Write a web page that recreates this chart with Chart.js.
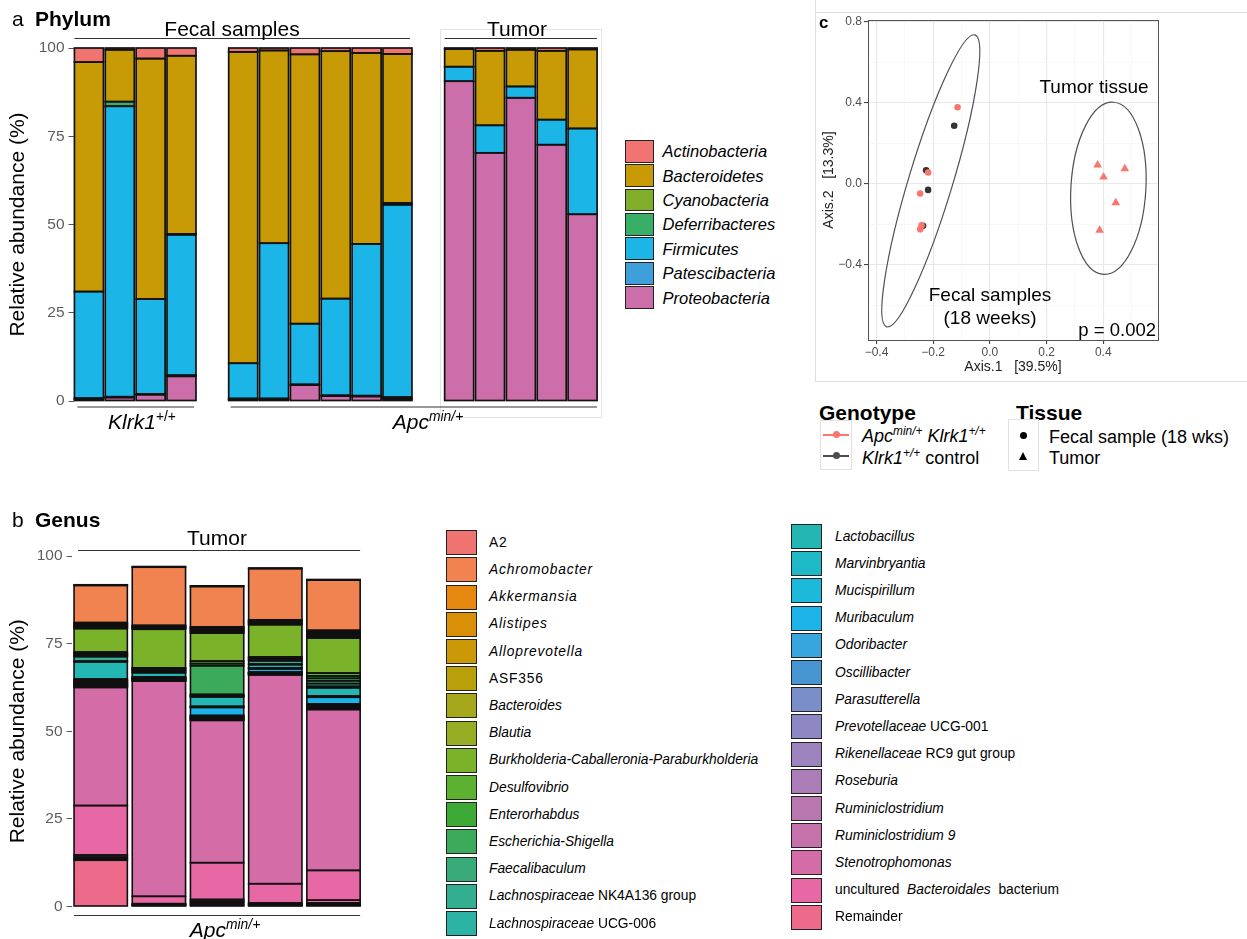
<!DOCTYPE html>
<html lang="en">
<head>
<meta charset="utf-8">
<title>Gut microbiota composition and PCoA</title>
<script src="https://cdn.jsdelivr.net/npm/chart.js@4.4.1/dist/chart.umd.min.js"></script>
<style>
  html, body { margin:0; padding:0; background:#fff; }
  body { position:relative; width:1247px; height:939px; overflow:hidden;
         font-family:"Liberation Sans", Arial, Helvetica, sans-serif; color:#000; }
  .panel { position:absolute; }
  canvas { display:block; }
  .t { position:absolute; white-space:nowrap; line-height:1; transform:translateY(-50%); }
  .tc { transform:translate(-50%,-50%); }
  .tr { transform:translate(-100%,-50%); }
  .b { font-weight:bold; }
  .sup { font-size:0.66em; position:relative; top:-0.55em; }
  .sw { position:absolute; box-sizing:border-box; border:1.7px solid #222; }
  .hl { position:absolute; height:0; border-top:1px solid #dedede; }
  .vl { position:absolute; width:0; border-left:1px solid #dedede; }
  .keybox { position:absolute; box-sizing:border-box; border:1px solid #e2e2e2; }
  .keyline { position:absolute; height:2px; }
  .keydot { position:absolute; border-radius:50%; }
  .keytri { position:absolute; width:0; height:0; border-left:4.5px solid transparent; border-right:4.5px solid transparent; border-bottom:8px solid #000; }
</style>
</head>
<body>

<div class="panel" style="left:0;top:0;"><canvas id="phylum" width="620" height="440"></canvas></div>
<div class="panel" style="left:0;top:500px;"><canvas id="genus" width="400" height="439"></canvas></div>
<div class="panel" style="left:815px;top:0;"><canvas id="pcoa" width="432" height="390"></canvas></div>

<!-- frame around the ordination panel -->
<div class="vl" style="left:815px;top:0;height:381px;"></div>
<div class="hl" style="left:815px;top:381px;width:432px;"></div>
<div class="hl" style="left:815px;top:12px;width:432px;"></div>

<!-- panel a titles -->
<div class="t" style="left:12px;top:18px;font-size:21px;">a</div>
<div class="t b" style="left:35px;top:18px;font-size:21px;">Phylum</div>
<div class="t tc" style="left:232px;top:28px;font-size:21px;">Fecal samples</div>
<div class="t tc" style="left:517px;top:28px;font-size:21px;">Tumor</div>
<div class="t tc" style="left:142px;top:421px;font-size:21px;"><i>Klrk1</i><span class="sup">+/+</span></div>
<div class="t tc" style="left:428px;top:421px;font-size:21px;"><i>Apc</i><span class="sup"><i>min/+</i></span></div>

<!-- panel b titles -->
<div class="t" style="left:12px;top:519px;font-size:21px;">b</div>
<div class="t b" style="left:35px;top:519px;font-size:21px;">Genus</div>
<div class="t tc" style="left:217px;top:537px;font-size:21px;">Tumor</div>
<div class="t tc" style="left:225px;top:929px;font-size:21px;"><i>Apc</i><span class="sup"><i>min/+</i></span></div>

<!-- panel c titles and annotations -->
<div class="t b" style="left:819px;top:22px;font-size:17px;">c</div>
<div class="t tc" style="left:1094px;top:86px;font-size:19px;">Tumor tissue</div>
<div class="t tc" style="left:990px;top:294px;font-size:19px;">Fecal samples</div>
<div class="t tc" style="left:990px;top:317px;font-size:19px;">(18 weeks)</div>
<div class="t tr" style="left:1156px;top:330px;font-size:18.5px;">p = 0.002</div>

<!-- genotype / tissue keys -->
<div class="t b" style="left:819px;top:412px;font-size:21px;">Genotype</div>
<div class="keybox" style="left:820px;top:420px;width:32px;height:50px;"></div>
<div class="keyline" style="left:823px;top:433.5px;width:26px;background:#F8766D;"></div>
<div class="keydot" style="left:832.5px;top:431px;width:7px;height:7px;background:#F8766D;"></div>
<div class="keyline" style="left:823px;top:454.5px;width:26px;background:#4d4d4d;"></div>
<div class="keydot" style="left:832.5px;top:452px;width:7px;height:7px;background:#4d4d4d;"></div>
<div class="t" style="left:862px;top:436px;font-size:18px;"><i>Apc</i><span class="sup"><i>min/+</i></span> <i>Klrk1</i><span class="sup"><i>+/+</i></span></div>
<div class="t" style="left:862px;top:458px;font-size:18px;"><i>Klrk1</i><span class="sup"><i>+/+</i></span> control</div>

<div class="t b" style="left:1016px;top:412px;font-size:21px;">Tissue</div>
<div class="keybox" style="left:1008px;top:419px;width:31px;height:52px;"></div>
<div class="keydot" style="left:1019.5px;top:431.5px;width:7px;height:7px;background:#000;"></div>
<div class="keytri" style="left:1018.5px;top:452px;"></div>
<div class="t" style="left:1049px;top:437px;font-size:18px;">Fecal sample (18 wks)</div>
<div class="t" style="left:1049px;top:458px;font-size:18px;">Tumor</div>

<div id="phylumLegend"></div>
<div id="genusLegend"></div>

<script>
// ===================== Panel a: phylum-level relative abundance =====================
const klrk1FecalSamples = ['K1', 'K2', 'K3', 'K4'];
const apcFecalSamples   = ['AF1', 'AF2', 'AF3', 'AF4', 'AF5', 'AF6'];
const apcTumorSamples   = ['AT1', 'AT2', 'AT3', 'AT4', 'AT5'];

const phylumNames  = ['Actinobacteria', 'Bacteroidetes', 'Cyanobacteria', 'Deferribacteres',
                      'Firmicutes', 'Patescibacteria', 'Proteobacteria'];
const phylumColors = ['#F07470', '#C79A06', '#80AD2A', '#39AE67', '#1CB5E8', '#3E9FDB', '#CC6EAA'];

// per-sample percentages: 4 Klrk1 fecal, 6 Apc fecal, 5 Apc tumour
const actinobacteria  = [4.0, 0.5, 3.0, 2.2,   1.1, 0.7, 1.8, 0.9, 1.4, 1.7,   0.3, 0.8, 0.5, 0.8, 0.4];
const bacteroidetes   = [65.0, 14.7, 68.1, 50.5, 88.2, 54.6, 76.3, 70.1, 54.1, 42.2, 5.0, 21.1, 10.4, 19.5, 22.4];
const cyanobacteria   = [0, 0, 0, 0,           0, 0, 0, 0, 0, 0.5,         0, 0, 0, 0, 0];
const deferribacteres = [0, 1.3, 0, 0.2,       0, 0, 0, 0, 0, 0,           0, 0, 0, 0, 0];
const firmicutes      = [30.2, 82.3, 26.9, 39.8, 10.0, 44.0, 17.2, 27.4, 43.0, 54.5, 4.1, 7.8, 3.2, 7.1, 24.3];
const patescibacteria = [0.3, 0.2, 0.2, 0.3,   0.3, 0.3, 0.2, 0.2, 0.2, 0.5, 0, 0, 0, 0, 0];
const proteobacteria  = [0.5, 1.0, 1.8, 7.0,   0.4, 0.4, 4.5, 1.4, 1.3, 0.6, 90.6, 70.3, 85.9, 72.6, 52.9];

const abundanceTicks = [0, 25, 50, 75, 100];

const phylumSeries = {
  Actinobacteria: actinobacteria, Bacteroidetes: bacteroidetes, Cyanobacteria: cyanobacteria,
  Deferribacteres: deferribacteres, Firmicutes: firmicutes, Patescibacteria: patescibacteria,
  Proteobacteria: proteobacteria
};

// one empty slot separates the facets
const phylumSlots = [...klrk1FecalSamples, '', ...apcFecalSamples, ' ', ...apcTumorSamples];
function withGaps(v) {
  const a = klrk1FecalSamples.length, b = a + apcFecalSamples.length;
  return [...v.slice(0, a), null, ...v.slice(a, b), null, ...v.slice(b)];
}

Chart.defaults.font.family = '"Liberation Sans", Arial, Helvetica, sans-serif';
Chart.defaults.animation = false;
Chart.defaults.plugins.legend.display = false;
Chart.defaults.plugins.tooltip.enabled = false;

const PHYLUM_BAR = 0.94;

function hLine(ctx, x1, x2, y, color) {
  ctx.save();
  ctx.strokeStyle = color || '#333';
  ctx.lineWidth = 1;
  ctx.beginPath();
  ctx.moveTo(x1, y); ctx.lineTo(x2, y);
  ctx.stroke();
  ctx.restore();
}

// Outline every stacked segment with a stroke centred on its edges, so thin
// segments collapse into dark bands the way outlined stacked bars do.
const segmentOutline = {
  id: 'segmentOutline',
  afterDatasetsDraw(chart, args, opts) {
    const {ctx} = chart;
    ctx.save();
    ctx.strokeStyle = opts.color || '#111';
    ctx.lineWidth = opts.width || 1.6;
    chart.data.datasets.forEach((ds, di) => {
      const meta = chart.getDatasetMeta(di);
      meta.data.forEach((el, i) => {
        if (ds.data[i] == null) return;
        const {x, y, base, width} = el.getProps(['x', 'y', 'base', 'width'], true);
        const top = Math.min(y, base), h = Math.abs(base - y);
        ctx.strokeRect(x - width / 2, top, width, h);
      });
    });
    ctx.restore();
  }
};

const phylumBrackets = {
  id: 'phylumBrackets',
  beforeDatasetsDraw(chart) {
    const {ctx, scales: {x}} = chart;
    const hw = (x.getPixelForValue(1) - x.getPixelForValue(0)) * PHYLUM_BAR / 2;
    const t0 = phylumSlots.length - apcTumorSamples.length, t1 = phylumSlots.length - 1;
    const l = x.getPixelForValue(t0) - hw - 5, r = x.getPixelForValue(t1) + hw + 4;
    ctx.save();
    ctx.strokeStyle = '#e3e3e3';
    ctx.lineWidth = 1;
    ctx.strokeRect(Math.round(l) + 0.5, 29.5, Math.round(r - l), 388);
    ctx.restore();
  },
  afterDraw(chart) {
    const {ctx, scales: {x}, chartArea} = chart;
    const hw = (x.getPixelForValue(1) - x.getPixelForValue(0)) * PHYLUM_BAR / 2;
    const fecalEnd = klrk1FecalSamples.length + apcFecalSamples.length; // slot index of last Apc fecal
    const t0 = phylumSlots.length - apcTumorSamples.length, t1 = phylumSlots.length - 1;
    const yTop = chartArea.top - 9.5, yBot = chartArea.bottom + 6;
    hLine(ctx, x.getPixelForValue(0) - hw, x.getPixelForValue(fecalEnd) + hw - 2, yTop);
    hLine(ctx, x.getPixelForValue(t0) - hw, x.getPixelForValue(t1) + hw, yTop);
    hLine(ctx, x.getPixelForValue(0) - hw + 3, x.getPixelForValue(klrk1FecalSamples.length - 1) + hw - 2, yBot);
    hLine(ctx, x.getPixelForValue(klrk1FecalSamples.length + 1) - hw + 2, x.getPixelForValue(t1) + hw, yBot);
  }
};

new Chart(document.getElementById('phylum'), {
  type: 'bar',
  data: {
    labels: phylumSlots,
    datasets: [...phylumNames].reverse().map(name => ({
      label: name,
      data: withGaps(phylumSeries[name]).map(v => (v ? v : null)),
      backgroundColor: phylumColors[phylumNames.indexOf(name)],
      borderWidth: 0,
      barPercentage: PHYLUM_BAR,
      categoryPercentage: 1
    }))
  },
  options: {
    responsive: false,
    layout: { padding: { top: 48, bottom: 39, right: 22, left: 0 } },
    plugins: { segmentOutline: { color: '#121212', width: 1.7 } },
    scales: {
      x: { stacked: true, display: false },
      y: {
        stacked: true, min: 0, max: 100,
        afterBuildTicks: s => { s.ticks = abundanceTicks.map(v => ({ value: v })); },
        afterFit: s => { s.width = 73.5; },
        ticks: { color: '#5e5e5e', font: { size: 15.5 }, padding: 4 },
        grid: { drawOnChartArea: false, tickLength: 5, tickColor: '#555', tickWidth: 1 },
        border: { display: false },
        title: { display: true, text: 'Relative abundance (%)', color: '#000',
                 font: { size: 21 }, padding: { top: 5.4, bottom: 0 } }
      }
    }
  },
  plugins: [phylumBrackets, segmentOutline]
});

// phylum legend
(function () {
  const host = document.getElementById('phylumLegend');
  phylumNames.forEach((name, i) => {
    const cy = 151.3 + i * 24.38;
    const sw = document.createElement('div');
    sw.className = 'sw';
    sw.style.cssText = `left:625px;top:${cy - 11.4}px;width:29px;height:22.8px;background:${phylumColors[i]};`;
    host.appendChild(sw);
    const tx = document.createElement('div');
    tx.className = 't';
    tx.style.cssText = `left:662.5px;top:${cy}px;font-size:16.5px;font-style:italic;`;
    tx.textContent = name;
    host.appendChild(tx);
  });
})();

// ===================== Panel b: genus-level relative abundance (tumours) =====================
const tumorSamples = ['T1', 'T2', 'T3', 'T4', 'T5'];

const genusNames = ['A2', 'Achromobacter', 'Akkermansia', 'Alistipes', 'Alloprevotella', 'ASF356',
  'Bacteroides', 'Blautia', 'Burkholderia-Caballeronia-Paraburkholderia', 'Desulfovibrio',
  'Enterorhabdus', 'Escherichia-Shigella', 'Faecalibaculum', 'Lachnospiraceae NK4A136 group',
  'Lachnospiraceae UCG-006', 'Lactobacillus', 'Marvinbryantia', 'Mucispirillum', 'Muribaculum',
  'Odoribacter', 'Oscillibacter', 'Parasutterella', 'Prevotellaceae UCG-001',
  'Rikenellaceae RC9 gut group', 'Roseburia', 'Ruminiclostridium', 'Ruminiclostridium 9',
  'Stenotrophomonas', 'uncultured Bacteroidales bacterium', 'Remainder'];

const genusLabels = ['A2', '<i>Achromobacter</i>', '<i>Akkermansia</i>', '<i>Alistipes</i>',
  '<i>Alloprevotella</i>', 'ASF356', '<i>Bacteroides</i>', '<i>Blautia</i>',
  '<i>Burkholderia-Caballeronia-Paraburkholderia</i>', '<i>Desulfovibrio</i>', '<i>Enterorhabdus</i>',
  '<i>Escherichia-Shigella</i>', '<i>Faecalibaculum</i>', '<i>Lachnospiraceae</i> NK4A136 group',
  '<i>Lachnospiraceae</i> UCG-006', '<i>Lactobacillus</i>', '<i>Marvinbryantia</i>',
  '<i>Mucispirillum</i>', '<i>Muribaculum</i>', '<i>Odoribacter</i>', '<i>Oscillibacter</i>',
  '<i>Parasutterella</i>', '<i>Prevotellaceae</i> UCG-001', '<i>Rikenellaceae</i> RC9 gut group',
  '<i>Roseburia</i>', '<i>Ruminiclostridium</i>', '<i>Ruminiclostridium 9</i>',
  '<i>Stenotrophomonas</i>', 'uncultured&nbsp; <i>Bacteroidales</i>&nbsp; bacterium', 'Remainder'];

const genusColors = ['#EF7470', '#F0834F', '#E6880F', '#D98F06', '#CB9907', '#B9A00B', '#A6A81C',
  '#96AC22', '#7AB22A', '#5DB131', '#3CAA35', '#3BAB5B', '#38AB78', '#33AF8F', '#2DB3A3', '#24B6B3',
  '#1EB8C6', '#1CB9DA', '#1CB3E8', '#37A6DE', '#4796D2', '#7A8ECA', '#8D88C4', '#9C83BE', '#AA7DB6',
  '#B877AF', '#C572AB', '#D46CA7', '#E868A5', '#EE6A8B'];

// per-tumour percentages
const a2                 = [0.2, 0.2, 0.2, 0.2, 0.2];
const achromobacter      = [10.6, 16.6, 11.5, 14.6, 14.3];
const akkermansia        = [0.25, 0.15, 0.3, 0.24, 0.36];
const alistipes          = [0.25, 0.15, 0.3, 0.24, 0.36];
const alloprevotella     = [0.3, 0.2, 0.3, 0.23, 0.37];
const asf356             = [0.3, 0.2, 0.3, 0.23, 0.37];
const bacteroides        = [0.3, 0.2, 0.3, 0.23, 0.37];
const blautia            = [0.3, 0.2, 0.3, 0.23, 0.37];
const burkholderia       = [6.7, 11.0, 8.0, 9.2, 10.0];
const desulfovibrio      = [0.4, 0.2, 0.7, 0.25, 0.8];
const enterorhabdus      = [0.3, 0.2, 0.6, 0.25, 0.7];
const escherichia        = [0.3, 0.25, 8.2, 0.3, 0.7];
const faecalibaculum     = [0.3, 0.25, 0.25, 0.3, 0.8];
const lachnoNK4A136      = [1.3, 0.3, 0.25, 0.9, 0.8];
const lachnoUCG006       = [0.2, 0.2, 0.2, 0.2, 0.4];
const lactobacillus      = [4.9, 1.2, 2.7, 0.9, 2.3];
const marvinbryantia     = [0.3, 0.1, 0.15, 0.1, 0.2];
const mucispirillum      = [0.2, 0.1, 0.15, 0.2, 0.2];
const muribaculum        = [0.3, 0.1, 2.3, 0.9, 1.9];
const odoribacter        = [0.2, 0.1, 0.15, 0.1, 0.2];
const oscillibacter      = [0.2, 0.15, 0.2, 0.05, 0.15];
const parasutterella     = [0.15, 0.1, 0.15, 0.1, 0.2];
const prevotellaceae     = [0.25, 0.1, 0.2, 0.1, 0.25];
const rikenellaceae      = [0.2, 0.1, 0.15, 0.15, 0.2];
const roseburia          = [0.15, 0.1, 0.2, 0.1, 0.15];
const ruminiclostridium  = [0.2, 0.15, 0.15, 0.1, 0.2];
const ruminiclostridium9 = [0.25, 0.1, 0.2, 0.1, 0.25];
const stenotrophomonas   = [33.7, 61.4, 40.6, 59.6, 45.9];
const unculturedBacteroidales     = [14.1, 2.1, 10.5, 5.5, 8.5];
const unculturedBacteroidalesOtu2 = [0.6, 0.2, 0.5, 0.3, 0.8];
const unculturedBacteroidalesOtu3 = [0.45, 0.15, 0.5, 0.2, 0.3];
const unculturedBacteroidalesOtu4 = [0.45, 0.15, 0.5, 0.2, 0.3];
const remainder          = [13.2, 0.3, 0.5, 0.3, 0.4];

// stacking from the bottom of each bar upward (several rows may share a genus)
const genusStack = [
  ['Remainder', remainder],
  ['uncultured Bacteroidales bacterium', unculturedBacteroidalesOtu4],
  ['uncultured Bacteroidales bacterium', unculturedBacteroidalesOtu3],
  ['uncultured Bacteroidales bacterium', unculturedBacteroidalesOtu2],
  ['uncultured Bacteroidales bacterium', unculturedBacteroidales],
  ['Stenotrophomonas', stenotrophomonas],
  ['Ruminiclostridium 9', ruminiclostridium9],
  ['Ruminiclostridium', ruminiclostridium],
  ['Roseburia', roseburia],
  ['Rikenellaceae RC9 gut group', rikenellaceae],
  ['Prevotellaceae UCG-001', prevotellaceae],
  ['Parasutterella', parasutterella],
  ['Oscillibacter', oscillibacter],
  ['Odoribacter', odoribacter],
  ['Muribaculum', muribaculum],
  ['Mucispirillum', mucispirillum],
  ['Marvinbryantia', marvinbryantia],
  ['Lactobacillus', lactobacillus],
  ['Lachnospiraceae UCG-006', lachnoUCG006],
  ['Lachnospiraceae NK4A136 group', lachnoNK4A136],
  ['Faecalibaculum', faecalibaculum],
  ['Escherichia-Shigella', escherichia],
  ['Enterorhabdus', enterorhabdus],
  ['Desulfovibrio', desulfovibrio],
  ['Burkholderia-Caballeronia-Paraburkholderia', burkholderia],
  ['Blautia', blautia],
  ['Bacteroides', bacteroides],
  ['ASF356', asf356],
  ['Alloprevotella', alloprevotella],
  ['Alistipes', alistipes],
  ['Akkermansia', akkermansia],
  ['Achromobacter', achromobacter],
  ['A2', a2]
];

const GENUS_BAR = 0.916;

const genusBrackets = {
  id: 'genusBrackets',
  afterDraw(chart) {
    const {ctx, scales: {x}, chartArea} = chart;
    const hw = (x.getPixelForValue(1) - x.getPixelForValue(0)) * GENUS_BAR / 2;
    const last = tumorSamples.length - 1;
    hLine(ctx, x.getPixelForValue(0) - hw + 4, x.getPixelForValue(last) + hw, chartArea.top - 5.5);
    hLine(ctx, x.getPixelForValue(0) - hw, x.getPixelForValue(last) + hw, chartArea.bottom + 9);
  }
};

new Chart(document.getElementById('genus'), {
  type: 'bar',
  data: {
    labels: tumorSamples,
    datasets: genusStack.map(([name, values]) => ({
      label: name,
      data: values.map(v => (v ? v : null)),
      backgroundColor: genusColors[genusNames.indexOf(name)],
      borderWidth: 0,
      barPercentage: GENUS_BAR,
      categoryPercentage: 1
    }))
  },
  options: {
    responsive: false,
    layout: { padding: { top: 56, bottom: 32.5, right: 37.4, left: 0 } },
    plugins: { segmentOutline: { color: '#101010', width: 1.6 } },
    scales: {
      x: { stacked: true, display: false },
      y: {
        stacked: true, min: 0, max: 100,
        afterBuildTicks: s => { s.ticks = abundanceTicks.map(v => ({ value: v })); },
        afterFit: s => { s.width = 71.6; },
        ticks: { color: '#5e5e5e', font: { size: 15.5 }, padding: 4 },
        grid: { drawOnChartArea: false, tickLength: 5, tickColor: '#555', tickWidth: 1 },
        border: { display: false },
        title: { display: true, text: 'Relative abundance (%)', color: '#000',
                 font: { size: 21 }, padding: { top: 5.4, bottom: 0 } }
      }
    }
  },
  plugins: [genusBrackets, segmentOutline]
});

// genus legend, two columns
(function () {
  const host = document.getElementById('genusLegend');
  const perColumn = 15;
  genusNames.forEach((name, i) => {
    const col = i < perColumn ? 0 : 1;
    const row = i % perColumn;
    const cy = (col === 0 ? 542.7 : 536.5) + row * 27.2;
    const swLeft = col === 0 ? 446 : 791;
    const txLeft = col === 0 ? 489 : 835;
    const sw = document.createElement('div');
    sw.className = 'sw';
    sw.style.cssText = `left:${swLeft}px;top:${cy - 12.5}px;width:31px;height:25px;background:${genusColors[i]};`;
    host.appendChild(sw);
    const tx = document.createElement('div');
    tx.className = 't';
    const spacing = (col === 0 && row < 6) ? 'letter-spacing:0.8px;' : '';
    tx.style.cssText = `left:${txLeft}px;top:${cy}px;font-size:13.8px;${spacing}`;
    tx.innerHTML = genusLabels[i];
    host.appendChild(tx);
  });
})();

// ===================== Panel c: PCoA of fecal and tumour samples =====================
const fecalApcX   = [-0.114, -0.218, -0.246, -0.241, -0.246];
const fecalApcY   = [0.379, 0.056, -0.048, -0.205, -0.225];
const fecalCtrlX  = [-0.126, -0.225, -0.218, -0.236];
const fecalCtrlY  = [0.287, 0.067, -0.030, -0.207];
const tumorApcX   = [0.380, 0.476, 0.401, 0.444, 0.387];
const tumorApcY   = [0.093, 0.074, 0.034, -0.093, -0.230];

const pcoaXMajor = [-0.4, -0.2, 0.0, 0.2, 0.4];
const pcoaXMinor = [-0.3, -0.1, 0.1, 0.3, 0.5];
const pcoaYMajor = [-0.4, 0.0, 0.4, 0.8];
const pcoaYMinor = [-0.6, -0.2, 0.2, 0.6];

// confidence ellipses: centre and two conjugate semi-axes, in axis units
const fecalEllipse = { cx: -0.2085, cy: 0.0148, ax: 0.1557, ay: 0.7216, bx: 0.0744, by: -0.0310 };
const tumorEllipse = { cx: 0.418,   cy: -0.022, ax: 0.0176, ay: 0.4255, bx: 0.132,  by: -0.011 };

const toPoints = (xs, ys) => xs.map((x, i) => ({ x, y: ys[i] }));
const isIn = (list, v) => list.some(m => Math.abs(m - v) < 1e-6);
const fmtAxis = v => (Math.abs(v) < 1e-9 ? '0.0' : (v < 0 ? '\u2212' : '') + Math.abs(v).toFixed(1));

const pcoaOverlay = {
  id: 'pcoaOverlay',
  afterDatasetsDraw(chart) {
    const {ctx, scales: {x, y}} = chart;
    [fecalEllipse, tumorEllipse].forEach(e => {
      const cx = x.getPixelForValue(e.cx), cy = y.getPixelForValue(e.cy);
      const ax = x.getPixelForValue(e.cx + e.ax) - cx, ay = y.getPixelForValue(e.cy + e.ay) - cy;
      const bx = x.getPixelForValue(e.cx + e.bx) - cx, by = y.getPixelForValue(e.cy + e.by) - cy;
      ctx.save();
      ctx.beginPath();
      ctx.save();
      ctx.transform(ax, ay, bx, by, cx, cy);
      ctx.arc(0, 0, 1, 0, Math.PI * 2);
      ctx.restore();
      ctx.strokeStyle = '#505050';
      ctx.lineWidth = 1.2;
      ctx.stroke();
      ctx.restore();
    });
  },
  afterDraw(chart) {
    const {ctx, chartArea: a} = chart;
    ctx.save();
    ctx.strokeStyle = '#555';
    ctx.lineWidth = 1;
    ctx.strokeRect(Math.round(a.left) + 0.5, Math.round(a.top) + 0.5,
                   Math.round(a.right - a.left), Math.round(a.bottom - a.top));
    ctx.restore();
  }
};

function pcoaGrid(major) {
  return {
    drawOnChartArea: true,
    color: c => (c.tick && isIn(major, c.tick.value) ? '#e8e8e8' : '#f3f3f3'),
    lineWidth: c => (c.tick && isIn(major, c.tick.value) ? 1.1 : 0.6),
    tickColor: c => (c.tick && isIn(major, c.tick.value) ? '#444' : 'rgba(0,0,0,0)'),
    tickLength: 4
  };
}

new Chart(document.getElementById('pcoa'), {
  type: 'scatter',
  data: {
    datasets: [
      { label: 'Apc fecal', data: toPoints(fecalApcX, fecalApcY), pointStyle: 'circle',
        pointRadius: 3.3, backgroundColor: '#F8766D', borderWidth: 0 },
      { label: 'Klrk1 control fecal', data: toPoints(fecalCtrlX, fecalCtrlY), pointStyle: 'circle',
        pointRadius: 3.3, backgroundColor: '#333', borderWidth: 0 },
      { label: 'Apc tumor', data: toPoints(tumorApcX, tumorApcY), pointStyle: 'triangle',
        pointRadius: 5, backgroundColor: '#F8766D', borderWidth: 0 }
    ]
  },
  options: {
    responsive: false,
    layout: { padding: { top: 20, right: 89, bottom: 0, left: 0 } },
    scales: {
      x: {
        type: 'linear', min: -0.43, max: 0.593,
        afterBuildTicks: s => { s.ticks = [...pcoaXMajor, ...pcoaXMinor].sort((p, q) => p - q).map(v => ({ value: v })); },
        afterFit: s => { s.height = 50; },
        ticks: { callback: v => (isIn(pcoaXMajor, v) ? fmtAxis(v) : ''), color: '#4d4d4d',
                 font: { size: 12 }, padding: 1, autoSkip: false, maxRotation: 0 },
        grid: pcoaGrid(pcoaXMajor),
        border: { display: false },
        title: { display: true, text: 'Axis.1   [39.5%]', color: '#222', font: { size: 14 },
                 padding: { top: 0, bottom: 14.6 } }
      },
      y: {
        type: 'linear', min: -0.772, max: 0.81,
        afterBuildTicks: s => { s.ticks = [...pcoaYMajor, ...pcoaYMinor].sort((p, q) => p - q).map(v => ({ value: v })); },
        afterFit: s => { s.width = 53; },
        ticks: { callback: v => (isIn(pcoaYMajor, v) ? fmtAxis(v) : ''), color: '#4d4d4d',
                 font: { size: 12 }, padding: 2, autoSkip: false },
        grid: pcoaGrid(pcoaYMajor),
        border: { display: false },
        title: { display: true, text: 'Axis.2   [13.3%]', color: '#222', font: { size: 14 },
                 padding: { top: 5.6, bottom: 0 } }
      }
    }
  },
  plugins: [pcoaOverlay]
});
</script>
</body>
</html>
